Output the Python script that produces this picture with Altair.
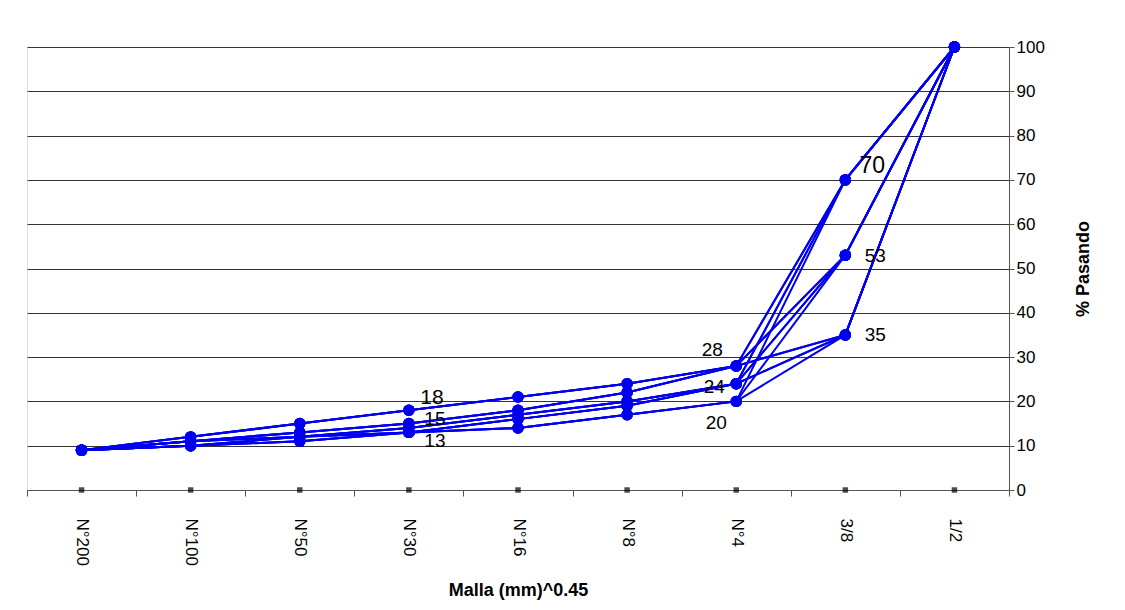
import altair as alt
import pandas as pd

cats = ["N°200", "N°100", "N°50", "N°30", "N°16", "N°8", "N°4", "3/8", "1/2"]
lower = {
    "A": [9, 12, 15, 18, 21, 24, 28],
    "B": [9, 11, 13, 15, 18, 22, 28],
    "C": [9, 11, 12, 14, 17, 20, 24],
    "D": [9, 10, 12, 13, 16, 19, 24],
    "E": [9, 10, 11, 13, 14, 17, 20],
}
upper38 = [70, 53, 35]
top = 100

rows = []
for k, vals in lower.items():
    for u in upper38:
        sid = f"{k}{u}"
        for i, v in enumerate(vals + [u, top]):
            rows.append({"s": sid, "cat": cats[i], "ord": i, "v": v})
df = pd.DataFrame(rows)

W, H = 982, 443
HALF = W / len(cats) / 2
lab_cat = ["N°30", "N°30", "N°30", "N°4", "N°4", "N°4", "3/8", "3/8", "3/8"]
lab_val = [18, 15, 13, 28, 24, 20, 70, 53, 35]
lab_txt = ["18", "15", "13", "28", "24", "20", "70", "53", "35"]
lab_dx = [23, 26, 26, -24, -22, -20, 27, 30, 30]
lab_dy = [-12, -5, 9, -16, 3, 22, -14, 1, 0]
lab_size = [21, 19, 19, 19, 19, 19, 23, 19, 19]
ldf = pd.DataFrame({"cat": lab_cat, "t": lab_txt,
                    "ly": [v - d * 100 / H for v, d in zip(lab_val, lab_dy)],
                    "dx": [d + HALF for d in lab_dx], "sz": lab_size})
zdf = pd.DataFrame({"cat": cats, "v": [0] * len(cats)})

x = alt.X("cat:N", sort=cats, scale=alt.Scale(paddingInner=0, paddingOuter=0),
          axis=alt.Axis(title="Malla (mm)^0.45", titleFont="Liberation Sans", titleFontSize=18,
                        titleFontWeight="bold", titleColor="black", labelAngle=90,
                        labelFont="Liberation Sans", labelFontSize=17, labelColor="black",
                        labelAlign="left", labelBaseline="middle", labelPadding=22,
                        domainColor="#555", tickColor="#555", tickBand="extent", tickSize=6,
                        grid=False, titlePadding=16))
y = alt.Y("v:Q", scale=alt.Scale(domain=[0, 100], nice=False),
          axis=alt.Axis(orient="right", values=list(range(0, 101, 10)), title="% Pasando",
                        titleFont="Liberation Sans", titleFontSize=18, titleFontWeight="bold",
                        titleColor="black", titlePadding=48, titleAngle=270,
                        labelFont="Liberation Sans", labelFontSize=17, labelColor="black",
                        domainColor="#555", tickColor="#555", gridColor="#333", gridOpacity=1))

lines = alt.Chart(df).mark_line(color="#0000ee", strokeWidth=2, point=alt.OverlayMarkDef(color="#0000ee", size=130, filled=True, opacity=1)).encode(
    x=x, y=y, detail="s:N", order="ord:Q")
zeros = alt.Chart(zdf).mark_square(color="black", size=30).encode(x=alt.X("cat:N", sort=cats), y="v:Q")
labels = alt.Chart(ldf).mark_text(font="Liberation Sans", color="black").encode(
    x=alt.X("cat:N", sort=cats), y="ly:Q", text="t:N",
    xOffset=alt.XOffset("dx:Q", scale=None),
    size=alt.Size("sz:Q", scale=None, legend=None))

chart = (zeros + lines + labels).properties(width=W, height=H, padding={"top": 30, "left": 11, "right": 5, "bottom": 5}).configure_view(
    stroke="#555", strokeWidth=1).configure(background="white")
chart.save("out.html", embed_options={"renderer": "svg", "actions": False})
